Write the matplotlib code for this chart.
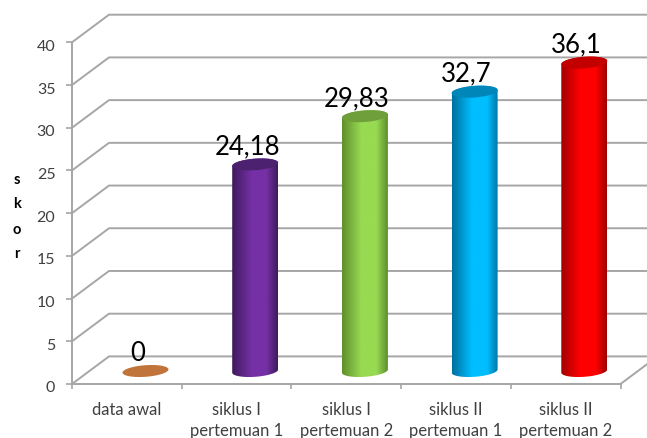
"""Recreate the 3D-look cylinder chart of skor per siklus."""

import matplotlib
matplotlib.use('Agg')
import matplotlib.pyplot as plt  # pylint: disable=wrong-import-position
import numpy as np  # pylint: disable=wrong-import-position
from matplotlib.colors import LinearSegmentedColormap  # pylint: disable=wrong-import-position
from matplotlib.patches import PathPatch, Polygon  # pylint: disable=wrong-import-position
from matplotlib.path import Path  # pylint: disable=wrong-import-position
from matplotlib.transforms import ScaledTranslation  # pylint: disable=wrong-import-position

CATEGORIES = ['data awal', 'siklus I\npertemuan 1', 'siklus I\npertemuan 2',
              'siklus II\npertemuan 1', 'siklus II\npertemuan 2']
VALUES = [0, 24.18, 29.83, 32.7, 36.1]
VALUE_LABELS = ['0', '24,18', '29,83', '32,7', '36,1']
Y_TICKS = [0, 5, 10, 15, 20, 25, 30, 35, 40]

# edge, middle, cap
BAR_COLORS = [
    ('#C0743A', '#C0743A', '#C0743A'),
    ('#3E1A5C', '#7530A5', '#4C2270'),
    ('#5F8F2C', '#98DA52', '#6F9F3B'),
    ('#006F9E', '#00BEFF', '#0086B8'),
    ('#A00000', '#FF0000', '#C20000'),
]

GRID = '#A6A6A6'
TEXT = '#404040'

# pixel geometry of the front plane
WIDTH, HEIGHT = 647, 439
LEFT, RIGHT, BOTTOM, TOP = 72, 620.5, 385, 43.3
PX_X = (RIGHT - LEFT) / len(CATEGORIES)
PX_Y = (BOTTOM - TOP) / Y_TICKS[-1]
DEPTH_X = 37 / PX_X
DEPTH_Y = 27.6 / PX_Y

# cylinder shape, pixels
RADIUS = 23
CAP = 5.8
TILT = 0.07
SHIFT_X = 0.17
SHIFT_Y = 13 / PX_Y


def ellipse(cx, cy, start=0.0, stop=2 * np.pi):
    """Tilted ellipse points in data units."""
    t = np.linspace(start, stop, 60)
    x = RADIUS * np.cos(t)
    y = CAP * np.sin(t) + TILT * x
    return np.column_stack([cx + x / PX_X, cy + y / PX_Y])


def draw_cylinder(ax, cx, value, colors):
    """Draw one shaded cylinder standing on the floor."""
    edge, middle, cap = colors
    base = SHIFT_Y
    top = base + value
    if value > 0:
        lower = ellipse(cx, base, np.pi, 2 * np.pi)
        upper = ellipse(cx, top, 0, np.pi)
        verts = np.vstack([lower, upper, lower[:1]])
        body = PathPatch(Path(verts), facecolor='none', edgecolor='none', zorder=3)
        ax.add_patch(body)
        cmap = LinearSegmentedColormap.from_list(
            'cyl', [(0, edge), (0.42, middle), (0.75, middle), (1, edge)])
        half = RADIUS / PX_X
        img = ax.imshow(np.linspace(0, 1, 128)[None, :], cmap=cmap, aspect='auto',
                        extent=(cx - half, cx + half, base - 2, top + 2), zorder=3)
        img.set_clip_path(body)
    ax.add_patch(Polygon(ellipse(cx, top), closed=True, facecolor=cap,
                         edgecolor='none', zorder=4, clip_on=False))


def main():
    fig = plt.figure(figsize=(WIDTH / 100, HEIGHT / 100), dpi=100)
    plt.rcParams['font.family'] = ['Lato', 'DejaVu Sans']
    ax = fig.add_axes([LEFT / WIDTH, 1 - BOTTOM / HEIGHT,
                       (RIGHT - LEFT) / WIDTH, (BOTTOM - TOP) / HEIGHT])
    n = len(CATEGORIES)

    # back wall grid lines with the slanted side wall part
    for tick in Y_TICKS:
        ax.plot([0, DEPTH_X, n + DEPTH_X], [tick, tick + DEPTH_Y, tick + DEPTH_Y],
                color=GRID, lw=1.4, clip_on=False, zorder=1)
    ax.plot([n, n + DEPTH_X], [0, DEPTH_Y], color=GRID, lw=1.4, clip_on=False, zorder=1)

    centers = np.arange(n) + 0.5
    for center, value, label, colors in zip(centers, VALUES, VALUE_LABELS, BAR_COLORS):
        cx = center + SHIFT_X
        draw_cylinder(ax, cx, value, colors)
        ax.annotate(label, (cx, value + SHIFT_Y), textcoords='offset points',
                    xytext=(-5.8, 13.5), ha='center', va='center', fontsize=18.5,
                    color='black', zorder=5)

    ax.set_xlim(0, n)
    ax.set_ylim(Y_TICKS[0], Y_TICKS[-1])
    ax.patch.set_visible(False)

    for side in ('top', 'right'):
        ax.spines[side].set_visible(False)
    for side in ('left', 'bottom'):
        ax.spines[side].set_color(GRID)
        ax.spines[side].set_linewidth(1.4)

    ax.set_yticks(Y_TICKS)
    ax.tick_params(axis='y', length=4, width=1.2, color=GRID, pad=8,
                   labelsize=11.5, labelcolor=TEXT)
    # the numbers sit a little under their ticks
    nudge = ScaledTranslation(0, -2 / 100, fig.dpi_scale_trans)
    for tick_label in ax.get_yticklabels():
        tick_label.set_transform(tick_label.get_transform() + nudge)

    ax.set_xticks(np.arange(n + 1))
    ax.set_xticklabels([])
    ax.set_xticks(centers, CATEGORIES, minor=True, linespacing=1.38)
    ax.tick_params(axis='x', which='major', length=3.5, width=1.2, color=GRID)
    ax.tick_params(axis='x', which='minor', length=0, pad=12,
                   labelsize=12, labelcolor=TEXT)

    fig.text(17 / WIDTH, 1 - 217 / HEIGHT, 's\nk\no\nr', ha='center', va='center',
             fontsize=10.5, fontweight='bold', color='black', linespacing=2.0)

    fig.savefig('out.png', dpi=100)
    plt.close(fig)


if __name__ == '__main__':
    main()
